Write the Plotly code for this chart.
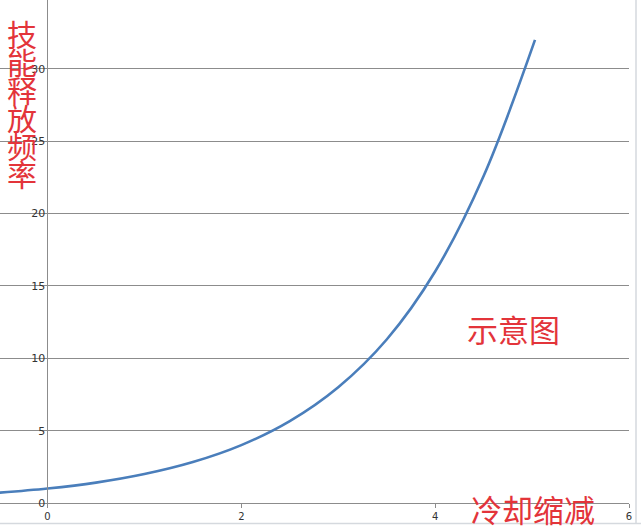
import plotly.graph_objects as go

cdr = [-0.5, 0, 0.5, 1, 1.5, 2, 2.5, 3, 3.5, 4, 4.5, 5.03]
freq = [0.71, 1.0, 1.41, 2.0, 2.83, 4.0, 5.66, 8.0, 11.3, 16.0, 22.6, 32.0]
x_ticks = [0, 2, 4, 6]
y_ticks = [0, 5, 10, 15, 20, 25, 30]
y_title_chars = ["技", "能", "释", "放", "频", "率"]

RED = "#e3343a"
GRID = "#8c8c8c"
FONT = "Noto Sans CJK SC"

W, H = 641, 529
ML, MR, MT, MB = 0, 12, 0, 26
PW, PH = W - ML - MR, H - MT - MB

def px(xp):
    return (xp - ML) / PW

def py(yp):
    return (PH + MT - yp) / PH

fig = go.Figure()
fig.add_trace(go.Scatter(x=cdr, y=freq, mode="lines",
                         line=dict(color="#4a7ebb", width=2.6, shape="spline", smoothing=1.0),
                         hoverinfo="skip"))

xmin, xmax = -0.49, 6.0
annotations = []
for i, ch in enumerate(y_title_chars):
    annotations.append(dict(text=ch, x=px(22), y=py(33 + 28 * i), xref="paper", yref="paper",
                            xanchor="center", yanchor="middle", showarrow=False,
                            font=dict(family=FONT, size=30, color=RED)))
annotations.append(dict(text="示意图", x=px(513), y=py(328), xref="paper", yref="paper",
                        xanchor="center", yanchor="middle", showarrow=False,
                        font=dict(family=FONT, size=31, color=RED)))
annotations.append(dict(text="冷却缩减", x=px(533), y=py(508), xref="paper", yref="paper",
                        xanchor="center", yanchor="middle", showarrow=False,
                        font=dict(family=FONT, size=31, color=RED)))

shapes = [
    dict(type="line", xref="paper", yref="paper", x0=px(0), x1=px(641), y0=py(523.5), y1=py(523.5),
         line=dict(color="#d5d9de", width=1.5)),
    dict(type="line", xref="paper", yref="paper", x0=px(636), x1=px(636), y0=py(0), y1=py(523.5),
         line=dict(color="#d5d9de", width=1.5)),
]

fig.update_layout(
    width=W, height=H,
    margin=dict(l=ML, r=MR, t=MT, b=MB),
    paper_bgcolor="white", plot_bgcolor="white",
    showlegend=False,
    xaxis=dict(range=[xmin, xmax], tickvals=x_ticks, showgrid=False, zeroline=False,
               showline=True, linecolor=GRID, linewidth=1, ticks="outside", ticklen=4,
               tickcolor=GRID, tickfont=dict(family="DejaVu Sans", size=10, color="#333"),
               fixedrange=True),
    yaxis=dict(range=[0, 34.76], tickvals=y_ticks, showgrid=True, gridcolor=GRID, gridwidth=1,
               zeroline=False, showline=True, linecolor=GRID, linewidth=1,
               anchor="free", position=(0 - xmin) / (xmax - xmin),
               ticks="", ticklabelstandoff=0,
               tickfont=dict(family="DejaVu Sans", size=11, color="#333"),
               fixedrange=True),
    annotations=annotations,
    shapes=shapes,
)
fig.write_html("out.html", config={"displayModeBar": False},
               post_script="document.body.style.margin='0';document.body.style.overflow='hidden';")
